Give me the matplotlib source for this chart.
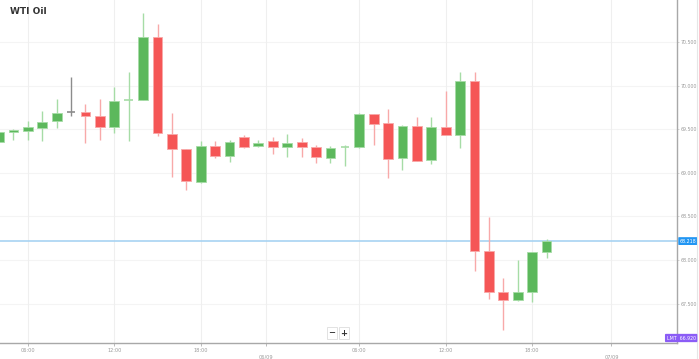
import matplotlib
matplotlib.use("Agg")
import matplotlib.pyplot as plt
import matplotlib.transforms as mtransforms

# hourly WTI candles
opens = [69.358, 69.469, 69.480, 69.515, 69.592, 69.695, 69.698, 69.656, 69.523, 69.834,
         69.836, 70.562, 69.446, 69.278, 68.899, 69.312, 69.194, 69.415, 69.308, 69.366,
         69.294, 69.351, 69.300, 69.174, 69.291, 69.294, 69.672, 69.569, 69.167, 69.534,
         69.148, 69.532, 69.435, 70.057, 68.101, 67.631, 67.542, 67.638, 68.093]
highs = [69.500, 69.503, 69.595, 69.710, 69.847, 70.096, 69.794, 69.851, 69.989, 70.161,
         70.830, 70.704, 69.683, 69.278, 69.369, 69.369, 69.377, 69.429, 69.377, 69.408,
         69.446, 69.397, 69.320, 69.308, 69.320, 69.687, 69.675, 69.729, 69.549, 69.638,
         69.644, 69.943, 70.154, 70.161, 68.498, 67.791, 68.001, 68.089, 68.242]
lows = [69.330, 69.377, 69.377, 69.366, 69.518, 69.653, 69.346, 69.377, 69.454, 69.369,
        69.836, 69.423, 68.956, 68.800, 68.888, 69.167, 69.128, 69.286, 69.300, 69.213,
        69.186, 69.186, 69.110, 69.117, 69.083, 69.291, 69.320, 68.945, 69.033, 69.131,
        69.102, 69.440, 69.289, 67.878, 67.557, 67.198, 67.534, 67.516, 68.021]
closes = [69.472, 69.489, 69.530, 69.587, 69.690, 69.695, 69.653, 69.530, 69.828, 69.836,
          70.555, 69.454, 69.271, 68.907, 69.308, 69.197, 69.358, 69.297, 69.346, 69.297,
          69.343, 69.300, 69.179, 69.282, 69.294, 69.679, 69.561, 69.159, 69.541, 69.133,
          69.526, 69.440, 70.050, 68.108, 67.634, 67.542, 67.634, 68.089, 68.218]

time_ticks = [2, 8, 14, 25, 31, 37]
time_labels = ["06:00", "12:00", "18:00", "06:00", "12:00", "18:00"]
date_ticks = [18.5, 42.5]
date_labels = ["06/09", "07/09"]
price_ticks = [67.5, 68.0, 68.5, 69.0, 69.5, 70.0, 70.5]
last_price = 68.218
limit_label = "LMT  66.920"

GREEN = "#5cb85c"
GREEN_LT = "#a6dca6"
RED = "#f55656"
RED_LT = "#f8a9a9"
GRAY = "#8c8c8c"

fig = plt.figure(figsize=(6.99, 3.59), dpi=100)
ax = fig.add_axes([0, 16 / 359, 677 / 699, 343 / 359])

for i in range(len(opens)):
    o, h, l, c = opens[i], highs[i], lows[i], closes[i]
    if c > o:
        body, wick = GREEN, GREEN_LT
    elif c < o:
        body, wick = RED, RED_LT
    else:
        body, wick = GRAY, GRAY
    ax.vlines(i, l, h, colors=wick, lw=1.0, zorder=2)
    height = abs(c - o)
    if height < 0.006:
        ax.hlines((o + c) / 2, i - 0.3, i + 0.3, colors=wick, lw=1.2, zorder=3)
    else:
        ax.bar(i, height, bottom=min(o, c), width=0.68, color=body,
               edgecolor=wick, linewidth=0.6, zorder=3)

ax.set_xlim(0.07, 47.05)
ax.set_ylim(67.049, 70.983)

# grid
for p in price_ticks:
    ax.axhline(p, color="#f4f4f4", lw=0.8, zorder=0)
for t in time_ticks + date_ticks:
    ax.axvline(t, color="#efefef", lw=0.8, zorder=0)

# last price line
ax.axhline(last_price, color="#a8d3f2", lw=1.2, zorder=1)

for s in ["top", "left"]:
    ax.spines[s].set_visible(False)
for s in ["bottom", "right"]:
    ax.spines[s].set_color("#a8a8a8")
    ax.spines[s].set_linewidth(1.0)

ax.yaxis.tick_right()
ax.set_yticks(price_ticks)
ax.set_yticklabels([f"{p:.3f}" for p in price_ticks])
ax.tick_params(axis="y", length=1.5, width=0.6, color="#cccccc", pad=1,
               labelsize=3.4, labelcolor="#9a9a9a")

ax.set_xticks(time_ticks)
ax.set_xticklabels(time_labels)
ax.set_xticks(date_ticks, minor=True)
ax.set_xticklabels(date_labels, minor=True)
ax.tick_params(axis="x", which="major", length=2, width=0.6, color="#b0b0b0",
               pad=1.5, labelsize=3.6, labelcolor="#9a9a9a")
ax.tick_params(axis="x", which="minor", length=2, width=0.6, color="#b0b0b0",
               pad=6.0, labelsize=3.6, labelcolor="#9a9a9a")

# price label on the right
trans = mtransforms.blended_transform_factory(ax.transAxes, ax.transData)
ax.text(1.004, last_price, f"{last_price:.3f}", transform=trans, fontsize=3.4,
        color="white", va="center", ha="left",
        bbox=dict(boxstyle="round,pad=0.3,rounding_size=0.15", fc="#2196f3", ec="none"))

fig.text(0.9745, 1 - 338 / 359, limit_label, fontsize=3.4, color="white",
         ha="center", va="center",
         bbox=dict(boxstyle="round,pad=0.35,rounding_size=0.2", fc="#8b5cf6", ec="none"))

# title
fig.text(10 / 699, 1 - 12 / 359, "WTI Oil", fontsize=6.5, fontweight="bold",
         color="#333333", ha="left", va="center")

# zoom buttons
fig.text(332 / 699, 1 - 333 / 359, "\u2212", fontsize=6, color="#333333",
         ha="center", va="center", fontweight="bold",
         bbox=dict(boxstyle="square,pad=0.15", fc="white", ec="#dddddd", lw=0.6))
fig.text(344 / 699, 1 - 333 / 359, "+", fontsize=6, color="#333333",
         ha="center", va="center", fontweight="bold",
         bbox=dict(boxstyle="square,pad=0.15", fc="white", ec="#dddddd", lw=0.6))

# outer border line on the far right
fig.add_artist(plt.Line2D([697 / 699, 697 / 699], [0, 1], color="#e6e6e6", lw=0.8))

fig.savefig("out.png", dpi=100)
